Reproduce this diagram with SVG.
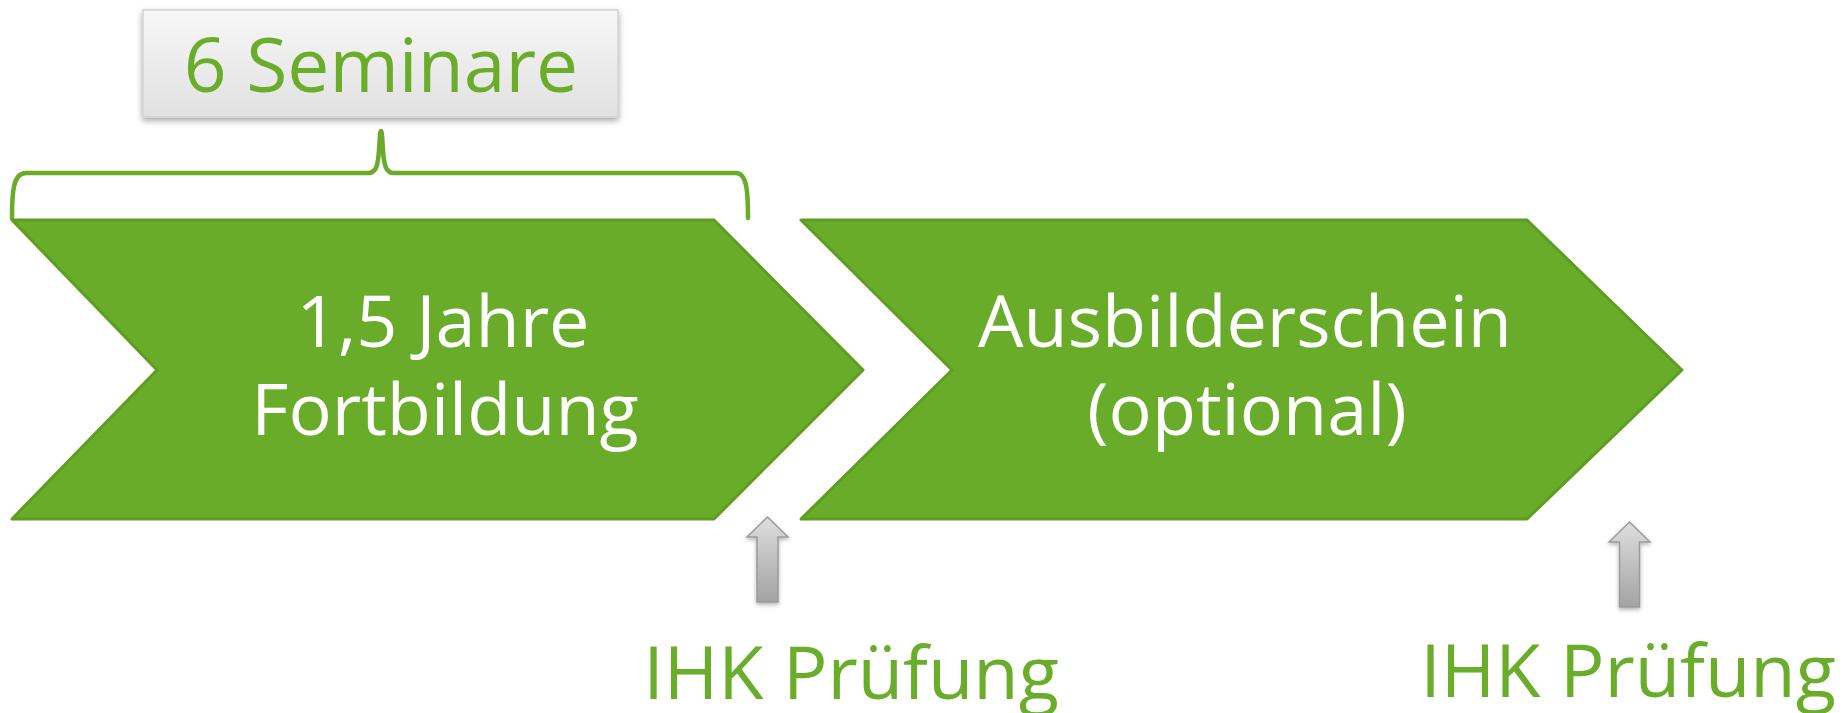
<svg xmlns="http://www.w3.org/2000/svg" width="1848" height="713" viewBox="0 0 1848 713">
  <defs>
    <linearGradient id="boxGrad" x1="0" y1="0" x2="0" y2="1">
      <stop offset="0" stop-color="#f7f7f7"/>
      <stop offset="1" stop-color="#e1e1e1"/>
    </linearGradient>
    <linearGradient id="arrowGrad" x1="0" y1="0" x2="0" y2="1">
      <stop offset="0" stop-color="#dedede"/>
      <stop offset="1" stop-color="#a3a3a3"/>
    </linearGradient>
    <filter id="shadow" x="-10%" y="-20%" width="120%" height="150%">
      <feDropShadow dx="0" dy="3" stdDeviation="3" flood-color="#000" flood-opacity="0.35"/>
    </filter>
    <filter id="arrowShadow" x="-50%" y="-20%" width="200%" height="140%">
      <feDropShadow dx="0" dy="2" stdDeviation="2" flood-color="#000" flood-opacity="0.3"/>
    </filter>
  </defs>
  <style>
    .chevron { fill: #68ac29; stroke: #5e9d22; stroke-width: 3; stroke-linejoin: round; }
    .white { fill: #ffffff; font-family: "Open Sans", "Liberation Sans", sans-serif; font-size: 72px; text-anchor: middle; }
    .green { fill: #6aad2b; font-family: "Open Sans", "Liberation Sans", sans-serif; text-anchor: middle; }
    .up { fill: url(#arrowGrad); stroke: #9b9b9b; stroke-width: 1.5; stroke-linejoin: miter; filter: url(#arrowShadow); }
    .brace { fill: none; stroke: #6aab2b; stroke-width: 4.5; stroke-linecap: round; stroke-linejoin: round; }
  </style>
  <rect width="1848" height="713" fill="#ffffff"/>

  <g id="label-seminare">
    <rect x="143" y="10" width="475" height="107" fill="url(#boxGrad)" stroke="#d3d3d3" stroke-width="1.5" filter="url(#shadow)"/>
    <text class="green" x="381" y="92" font-size="75">6 Seminare</text>
  </g>

  <g id="connectors">
    <path class="brace" d="M12,218 C12,192 13,173 26,173 L368,173 C376,173 378,166 379,150 C380,136 380,131 381,131 C382,131 382,136 383,150 C384,166 386,173 394,173 L736,173 C747,173 748,192 748,218"/>
    <path class="up" d="M767.5,517 L788,537 L778,537 L778,602 L757,602 L757,537 L747,537 Z"/>
    <path class="up" d="M1629.5,522 L1650,542 L1639.5,542 L1639.5,607 L1619.5,607 L1619.5,542 L1609,542 Z"/>
  </g>

  <g id="node-fortbildung">
    <polygon class="chevron" points="12,220 714,220 863,370 714,519 12,519 157,370"/>
    <text class="white" x="443" y="347">1,5 Jahre</text>
    <text class="white" x="445" y="435">Fortbildung</text>
  </g>

  <g id="node-ausbilderschein">
    <polygon class="chevron" points="801,220 1527,220 1682,370 1527,519 801,519 952,370"/>
    <text class="white" x="1245" y="347">Ausbilderschein</text>
    <text class="white" x="1247" y="435">(optional)</text>
  </g>

  <g id="label-ihk-1">
    <text class="green" x="851" y="699" font-size="74">IHK Prüfung</text>
  </g>
  <g id="label-ihk-2">
    <text class="green" x="1628" y="697" font-size="74">IHK Prüfung</text>
  </g>
</svg>
